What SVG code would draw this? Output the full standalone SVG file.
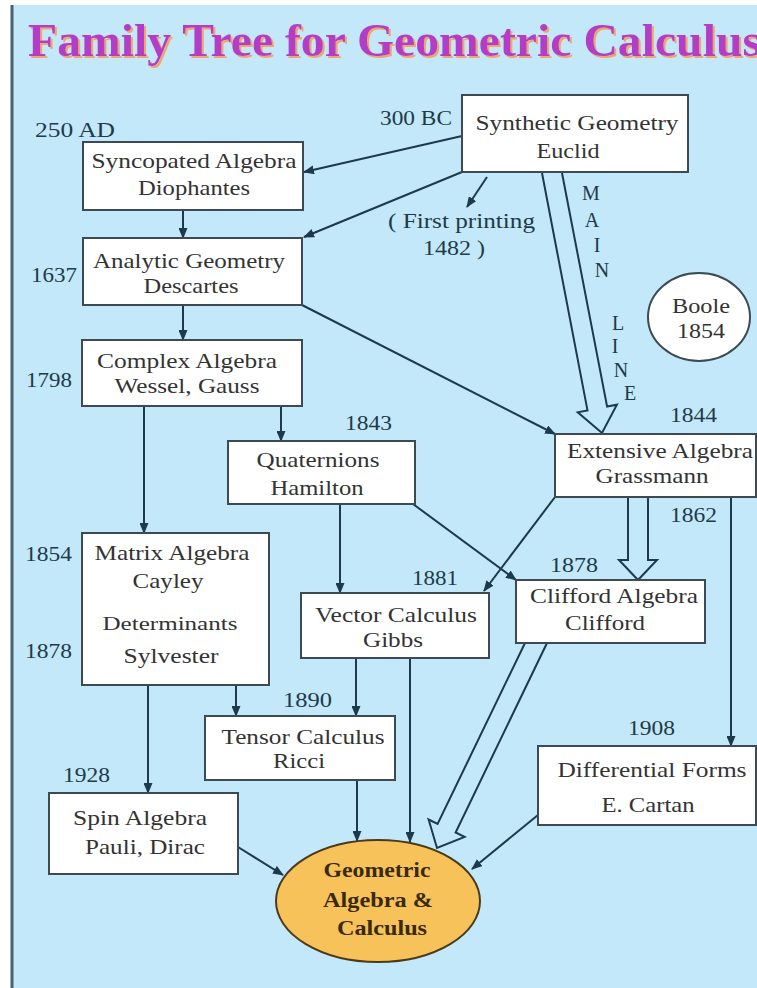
<svg xmlns="http://www.w3.org/2000/svg" width="757" height="988" viewBox="0 0 757 988">
<style>
.box{fill:#ffffff;stroke:#3c4a52;stroke-width:2}
.t{font-family:"Liberation Serif","Times New Roman",serif;font-size:21px;fill:#333333;text-anchor:middle}
.yr{font-family:"Liberation Serif","Times New Roman",serif;font-size:20px;fill:#1f3a48}
.ml{font-family:"Liberation Serif","Times New Roman",serif;font-size:20px;fill:#1f3a48;text-anchor:middle}
.c{fill:none;stroke:#1d3a4c;stroke-width:2}
.ca{fill:none;stroke:#1d3a4c;stroke-width:2;marker-end:url(#ah)}
.g{font-family:"Liberation Serif","Times New Roman",serif;font-size:20px;font-weight:bold;fill:#3a2a0c;text-anchor:middle}
.title{font-family:"Liberation Serif","Times New Roman",serif;font-size:47px;font-weight:bold;fill:#b23ec6;filter:url(#sh)}
</style>
<defs>
<marker id="ah" markerUnits="userSpaceOnUse" markerWidth="11" markerHeight="9" refX="10" refY="4.5" orient="auto">
<path d="M0,0 L11,4.5 L0,9 z" fill="#1d3a4c"/>
</marker>
<filter id="sh" x="-5%" y="-20%" width="110%" height="150%">
<feDropShadow dx="2" dy="2" stdDeviation="0.6" flood-color="#f4a468" flood-opacity="1"/>
</filter>
</defs>
<rect x="0" y="0" width="757" height="988" fill="#ffffff"/>
<rect x="12" y="5" width="745" height="983" fill="#c2e8fa"/>
<line x1="12" y1="5" x2="12" y2="988" stroke="#4a6270" stroke-width="3"/>

<g id="title">
<text class="title" x="28" y="56" textLength="733" lengthAdjust="spacingAndGlyphs">Family Tree for Geometric Calculus</text>
</g>

<g id="connectors">
<line class="ca" x1="462" y1="136" x2="304" y2="172"/>
<line class="ca" x1="462" y1="172" x2="304" y2="237"/>
<line class="ca" x1="487" y1="177" x2="467" y2="207"/>
<line class="ca" x1="183" y1="210" x2="183" y2="238"/>
<line class="ca" x1="183" y1="305" x2="183" y2="340"/>
<line class="ca" x1="302" y1="305" x2="555" y2="434"/>
<line class="ca" x1="281" y1="406" x2="281" y2="441"/>
<line class="ca" x1="144" y1="406" x2="144" y2="533"/>
<line class="ca" x1="340" y1="504" x2="340" y2="593"/>
<line class="ca" x1="413" y1="504" x2="516" y2="580"/>
<line class="ca" x1="555" y1="497" x2="484" y2="591"/>
<line class="ca" x1="731" y1="497" x2="731" y2="746"/>
<line class="ca" x1="236" y1="685" x2="236" y2="716"/>
<line class="ca" x1="148" y1="685" x2="148" y2="793"/>
<line class="ca" x1="356" y1="658" x2="356" y2="716"/>
<line class="ca" x1="410" y1="658" x2="410" y2="842"/>
<line class="ca" x1="357" y1="780" x2="357" y2="841"/>
<line class="ca" x1="238" y1="847" x2="283" y2="875"/>
<line class="ca" x1="538" y1="815" x2="472" y2="869"/>
<polyline class="c" points="542,173 587.5,410.4 577.7,412.3 602,433 616.9,404.7 607.1,406.6 562,173"/>
<polyline class="c" points="628,497 628,560 619,560 638,580 657,560 648,560 648,497"/>
<polyline class="c" points="525,643 437.6,823.9 428.6,819.5 437,848 464.6,836.9 455.6,832.5 547,643"/>
</g>

<g id="labels">
<text class="yr" x="35" y="137" textLength="80" lengthAdjust="spacingAndGlyphs">250 AD</text>
<text class="yr" x="380" y="125" textLength="72" lengthAdjust="spacingAndGlyphs">300 BC</text>
<text class="yr" x="388" y="228" textLength="147" lengthAdjust="spacingAndGlyphs">( First printing</text>
<text class="yr" x="423" y="255" textLength="62" lengthAdjust="spacingAndGlyphs">1482 )</text>
<text class="yr" x="31" y="282" textLength="46" lengthAdjust="spacingAndGlyphs">1637</text>
<text class="yr" x="26" y="387" textLength="46" lengthAdjust="spacingAndGlyphs">1798</text>
<text class="yr" x="345" y="430" textLength="47" lengthAdjust="spacingAndGlyphs">1843</text>
<text class="yr" x="670" y="422" textLength="47" lengthAdjust="spacingAndGlyphs">1844</text>
<text class="yr" x="670" y="522" textLength="47" lengthAdjust="spacingAndGlyphs">1862</text>
<text class="yr" x="25" y="561" textLength="47" lengthAdjust="spacingAndGlyphs">1854</text>
<text class="yr" x="25" y="658" textLength="47" lengthAdjust="spacingAndGlyphs">1878</text>
<text class="yr" x="550" y="572" textLength="48" lengthAdjust="spacingAndGlyphs">1878</text>
<text class="yr" x="412" y="585" textLength="46" lengthAdjust="spacingAndGlyphs">1881</text>
<text class="yr" x="283" y="707" textLength="49" lengthAdjust="spacingAndGlyphs">1890</text>
<text class="yr" x="628" y="735" textLength="47" lengthAdjust="spacingAndGlyphs">1908</text>
<text class="yr" x="63" y="782" textLength="47" lengthAdjust="spacingAndGlyphs">1928</text>
<text class="ml" x="591" y="200">M</text>
<text class="ml" x="592" y="227">A</text>
<text class="ml" x="597" y="252">I</text>
<text class="ml" x="602" y="277">N</text>
<text class="ml" x="618" y="330">L</text>
<text class="ml" x="615" y="353">I</text>
<text class="ml" x="621" y="377">N</text>
<text class="ml" x="630" y="400">E</text>
</g>

<g id="synthetic">
<rect class="box" x="462" y="95" width="226" height="77"/>
<text class="t" x="577" y="130" textLength="203" lengthAdjust="spacingAndGlyphs">Synthetic Geometry</text>
<text class="t" x="568" y="158" textLength="63" lengthAdjust="spacingAndGlyphs">Euclid</text>
</g>
<g id="syncopated">
<rect class="box" x="83" y="142" width="220" height="68"/>
<text class="t" x="194" y="168" textLength="205" lengthAdjust="spacingAndGlyphs">Syncopated Algebra</text>
<text class="t" x="194" y="195" textLength="112" lengthAdjust="spacingAndGlyphs">Diophantes</text>
</g>
<g id="analytic">
<rect class="box" x="83" y="238" width="219" height="67"/>
<text class="t" x="189" y="268" textLength="192" lengthAdjust="spacingAndGlyphs">Analytic Geometry</text>
<text class="t" x="191" y="293" textLength="95" lengthAdjust="spacingAndGlyphs">Descartes</text>
</g>
<g id="complex">
<rect class="box" x="82" y="340" width="220" height="66"/>
<text class="t" x="187" y="368" textLength="180" lengthAdjust="spacingAndGlyphs">Complex Algebra</text>
<text class="t" x="187" y="393" textLength="145" lengthAdjust="spacingAndGlyphs">Wessel, Gauss</text>
</g>
<g id="boole">
<ellipse cx="699" cy="317" rx="51" ry="44" fill="#ffffff" stroke="#3c4a52" stroke-width="2"/>
<text class="t" x="701" y="313" textLength="58" lengthAdjust="spacingAndGlyphs">Boole</text>
<text class="t" x="701" y="338" textLength="48" lengthAdjust="spacingAndGlyphs">1854</text>
</g>
<g id="quaternions">
<rect class="box" x="228" y="441" width="187" height="63"/>
<text class="t" x="318" y="467" textLength="123" lengthAdjust="spacingAndGlyphs">Quaternions</text>
<text class="t" x="317" y="495" textLength="93" lengthAdjust="spacingAndGlyphs">Hamilton</text>
</g>
<g id="extensive">
<rect class="box" x="555" y="434" width="201" height="63"/>
<text class="t" x="660" y="458" textLength="186" lengthAdjust="spacingAndGlyphs">Extensive Algebra</text>
<text class="t" x="652" y="483" textLength="113" lengthAdjust="spacingAndGlyphs">Grassmann</text>
</g>
<g id="matrix">
<rect class="box" x="82" y="533" width="187" height="152"/>
<text class="t" x="172" y="560" textLength="155" lengthAdjust="spacingAndGlyphs">Matrix Algebra</text>
<text class="t" x="168" y="588" textLength="71" lengthAdjust="spacingAndGlyphs">Cayley</text>
<text class="t" x="170" y="630" textLength="135" lengthAdjust="spacingAndGlyphs" style="font-size:18px">Determinants</text>
<text class="t" x="171" y="663" textLength="95" lengthAdjust="spacingAndGlyphs">Sylvester</text>
</g>
<g id="vector">
<rect class="box" x="301" y="593" width="188" height="65"/>
<text class="t" x="396" y="622" textLength="162" lengthAdjust="spacingAndGlyphs">Vector Calculus</text>
<text class="t" x="393" y="647" textLength="60" lengthAdjust="spacingAndGlyphs">Gibbs</text>
</g>
<g id="clifford">
<rect class="box" x="516" y="580" width="189" height="63"/>
<text class="t" x="614" y="603" textLength="168" lengthAdjust="spacingAndGlyphs">Clifford Algebra</text>
<text class="t" x="605" y="630" textLength="80" lengthAdjust="spacingAndGlyphs">Clifford</text>
</g>
<g id="tensor">
<rect class="box" x="205" y="716" width="190" height="64"/>
<text class="t" x="303" y="744" textLength="163" lengthAdjust="spacingAndGlyphs">Tensor Calculus</text>
<text class="t" x="299" y="768" textLength="52" lengthAdjust="spacingAndGlyphs">Ricci</text>
</g>
<g id="differential">
<rect class="box" x="538" y="746" width="218" height="79"/>
<text class="t" x="652" y="777" textLength="189" lengthAdjust="spacingAndGlyphs">Differential Forms</text>
<text class="t" x="648" y="812" textLength="93" lengthAdjust="spacingAndGlyphs">E. Cartan</text>
</g>
<g id="spin">
<rect class="box" x="49" y="793" width="189" height="81"/>
<text class="t" x="140" y="825" textLength="134" lengthAdjust="spacingAndGlyphs">Spin Algebra</text>
<text class="t" x="145" y="854" textLength="120" lengthAdjust="spacingAndGlyphs">Pauli, Dirac</text>
</g>
<g id="geometric">
<ellipse cx="378" cy="901" rx="102" ry="61" fill="#f8c25a" stroke="#4a3a1a" stroke-width="2"/>
<text class="g" x="377" y="877" textLength="107" lengthAdjust="spacingAndGlyphs">Geometric</text>
<text class="g" x="378" y="907" textLength="110" lengthAdjust="spacingAndGlyphs">Algebra &amp;</text>
<text class="g" x="382" y="935" textLength="90" lengthAdjust="spacingAndGlyphs">Calculus</text>
</g>
</svg>
